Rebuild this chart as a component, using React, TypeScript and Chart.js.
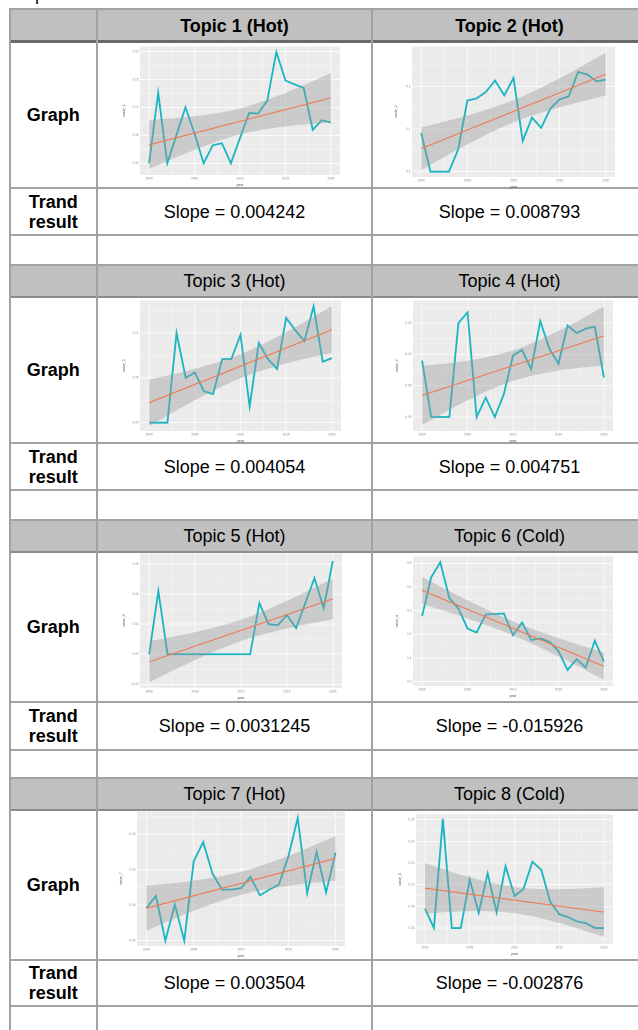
import React, { useEffect, useRef } from 'react';
import { Chart, registerables } from 'chart.js';

Chart.register(...registerables);

// ---------- data ----------
const YEARS = [2000, 2001, 2002, 2003, 2004, 2005, 2006, 2007, 2008, 2009, 2010, 2011, 2012, 2013, 2014, 2015, 2016, 2017, 2018, 2019, 2020];
const FIT_YEARS = [2000, 2020];
const BAND_YEARS = [2000, 2005, 2010, 2015, 2020];
const X_TICKS = [2000, 2002.5, 2005, 2007.5, 2010, 2012.5, 2015, 2017.5, 2020];
const X_LABELS = ['2000', '', '2005', '', '2010', '', '2015', '', '2020'];

const TOPIC_TITLES = ['Topic 1 (Hot)', 'Topic 2 (Hot)', 'Topic 3 (Hot)', 'Topic 4 (Hot)', 'Topic 5 (Hot)', 'Topic 6 (Cold)', 'Topic 7 (Hot)', 'Topic 8 (Cold)'];
const SLOPES = ['Slope = 0.004242', 'Slope = 0.008793', 'Slope = 0.004054', 'Slope = 0.004751', 'Slope = 0.0031245', 'Slope = -0.015926', 'Slope = 0.003504', 'Slope = -0.002876'];
const Y_TITLES = ['value_1', 'value_2', 'value_3', 'value_4', 'value_5', 'value_6', 'value_7', 'value_8'];

const TOPIC1_VALUES = [0.0, 0.126, 0.0, 0.05, 0.1, 0.053, 0.0, 0.032, 0.036, 0.0, 0.045, 0.09, 0.089, 0.112, 0.199, 0.148, 0.141, 0.135, 0.06, 0.077, 0.073];
const TOPIC2_VALUES = [0.091, 0.0, 0.0, 0.0, 0.052, 0.167, 0.172, 0.187, 0.214, 0.179, 0.22, 0.072, 0.127, 0.103, 0.148, 0.17, 0.177, 0.234, 0.228, 0.212, 0.216];
const TOPIC3_VALUES = [0.0, 0.0, 0.0, 0.1, 0.05, 0.056, 0.035, 0.032, 0.071, 0.071, 0.098, 0.018, 0.089, 0.071, 0.06, 0.117, 0.103, 0.091, 0.13, 0.068, 0.072];
const TOPIC4_VALUES = [0.09, 0.0, 0.0, 0.0, 0.15, 0.167, 0.0, 0.031, 0.0, 0.037, 0.098, 0.107, 0.076, 0.153, 0.109, 0.085, 0.146, 0.134, 0.141, 0.144, 0.063];
const TOPIC5_VALUES = [0.0, 0.063, 0.0, 0.0, 0.0, 0.0, 0.0, 0.0, 0.0, 0.0, 0.0, 0.0, 0.051, 0.03, 0.029, 0.039, 0.026, 0.051, 0.076, 0.046, 0.093];
const TOPIC6_VALUES = [0.277, 0.441, 0.504, 0.353, 0.309, 0.224, 0.208, 0.284, 0.286, 0.288, 0.196, 0.25, 0.176, 0.183, 0.169, 0.13, 0.049, 0.095, 0.06, 0.173, 0.085];
const TOPIC7_VALUES = [0.046, 0.063, 0.0, 0.051, 0.0, 0.112, 0.139, 0.094, 0.072, 0.072, 0.074, 0.09, 0.064, 0.072, 0.079, 0.118, 0.173, 0.067, 0.125, 0.068, 0.124];
const TOPIC8_VALUES = [0.045, 0.0, 0.252, 0.0, 0.0, 0.112, 0.035, 0.126, 0.036, 0.143, 0.074, 0.09, 0.153, 0.134, 0.06, 0.032, 0.025, 0.015, 0.011, 0.0, 0.0];

const TOPIC1_FIT = [0.033, 0.117];
const TOPIC2_FIT = [0.054, 0.229];
const TOPIC3_FIT = [0.0223, 0.1037];
const TOPIC4_FIT = [0.0345, 0.1294];
const TOPIC5_FIT = [-0.0076, 0.0552];
const TOPIC6_FIT = [0.3855, 0.0656];
const TOPIC7_FIT = [0.0458, 0.1159];
const TOPIC8_FIT = [0.092, 0.0368];

const TOPIC1_UPPER = [0.077, 0.084, 0.098, 0.126, 0.161];
const TOPIC1_LOWER = [-0.01, 0.024, 0.052, 0.066, 0.073];
const TOPIC2_UPPER = [0.104, 0.132, 0.168, 0.219, 0.279];
const TOPIC2_LOWER = [0.004, 0.064, 0.116, 0.151, 0.179];
const TOPIC3_UPPER = [0.048, 0.06, 0.0765, 0.101, 0.13];
const TOPIC3_LOWER = [-0.004, 0.025, 0.0495, 0.066, 0.078];
const TOPIC4_UPPER = [0.0815, 0.0898, 0.1063, 0.1373, 0.1764];
const TOPIC4_LOWER = [-0.0125, 0.0266, 0.0577, 0.0741, 0.0824];
const TOPIC5_UPPER = [0.0129, 0.0219, 0.0344, 0.0533, 0.0754];
const TOPIC5_LOWER = [-0.028, -0.0057, 0.0132, 0.0257, 0.035];
const TOPIC6_UPPER = [0.4425, 0.3438, 0.255, 0.1839, 0.1226];
const TOPIC6_LOWER = [0.3285, 0.2672, 0.196, 0.1073, 0.0086];
const TOPIC7_UPPER = [0.0773, 0.0845, 0.0971, 0.1196, 0.1474];
const TOPIC7_LOWER = [0.0143, 0.0421, 0.0645, 0.0772, 0.0844];
const TOPIC8_UPPER = [0.15, 0.1172, 0.0944, 0.0896, 0.0943];
const TOPIC8_LOWER = [0.034, 0.0392, 0.0344, 0.0116, -0.0207];

const TOPIC1_Y_TICKS = [0, 0.05, 0.1, 0.15, 0.2];
const TOPIC1_Y_LABELS = ['0.00', '0.05', '0.10', '0.15', '0.20'];
const TOPIC2_Y_TICKS = [0, 0.1, 0.2];
const TOPIC2_Y_LABELS = ['0.0', '0.1', '0.2'];
const TOPIC3_Y_TICKS = [0, 0.05, 0.1];
const TOPIC3_Y_LABELS = ['0.00', '0.05', '0.10'];
const TOPIC4_Y_TICKS = [0, 0.05, 0.1, 0.15];
const TOPIC4_Y_LABELS = ['0.00', '0.05', '0.10', '0.15'];
const TOPIC5_Y_TICKS = [-0.03, 0, 0.03, 0.06, 0.09];
const TOPIC5_Y_LABELS = ['-0.03', '0.00', '0.03', '0.06', '0.09'];
const TOPIC6_Y_TICKS = [0, 0.1, 0.2, 0.3, 0.4, 0.5];
const TOPIC6_Y_LABELS = ['0.0', '0.1', '0.2', '0.3', '0.4', '0.5'];
const TOPIC7_Y_TICKS = [0, 0.05, 0.1, 0.15];
const TOPIC7_Y_LABELS = ['0.00', '0.05', '0.10', '0.15'];
const TOPIC8_Y_TICKS = [0, 0.05, 0.1, 0.15, 0.2, 0.25];
const TOPIC8_Y_LABELS = ['0.00', '0.05', '0.10', '0.15', '0.20', '0.25'];

const TOPIC1_Y_RANGE = [-0.021, 0.209];
const TOPIC2_Y_RANGE = [-0.0125, 0.294];
const TOPIC3_Y_RANGE = [-0.0093, 0.1364];
const TOPIC4_Y_RANGE = [-0.0223, 0.186];
const TOPIC5_Y_RANGE = [-0.0337, 0.1006];
const TOPIC6_Y_RANGE = [-0.018, 0.529];
const TOPIC7_Y_RANGE = [-0.0075, 0.1822];
const TOPIC8_Y_RANGE = [-0.0368, 0.2623];

// ---------- assembled ----------
type Topic = {
  values: number[]; fit: number[]; upper: number[]; lower: number[];
  yTicks: number[]; yLabels: string[]; yRange: number[];
};
const TOPICS: Topic[] = [
  { values: TOPIC1_VALUES, fit: TOPIC1_FIT, upper: TOPIC1_UPPER, lower: TOPIC1_LOWER, yTicks: TOPIC1_Y_TICKS, yLabels: TOPIC1_Y_LABELS, yRange: TOPIC1_Y_RANGE },
  { values: TOPIC2_VALUES, fit: TOPIC2_FIT, upper: TOPIC2_UPPER, lower: TOPIC2_LOWER, yTicks: TOPIC2_Y_TICKS, yLabels: TOPIC2_Y_LABELS, yRange: TOPIC2_Y_RANGE },
  { values: TOPIC3_VALUES, fit: TOPIC3_FIT, upper: TOPIC3_UPPER, lower: TOPIC3_LOWER, yTicks: TOPIC3_Y_TICKS, yLabels: TOPIC3_Y_LABELS, yRange: TOPIC3_Y_RANGE },
  { values: TOPIC4_VALUES, fit: TOPIC4_FIT, upper: TOPIC4_UPPER, lower: TOPIC4_LOWER, yTicks: TOPIC4_Y_TICKS, yLabels: TOPIC4_Y_LABELS, yRange: TOPIC4_Y_RANGE },
  { values: TOPIC5_VALUES, fit: TOPIC5_FIT, upper: TOPIC5_UPPER, lower: TOPIC5_LOWER, yTicks: TOPIC5_Y_TICKS, yLabels: TOPIC5_Y_LABELS, yRange: TOPIC5_Y_RANGE },
  { values: TOPIC6_VALUES, fit: TOPIC6_FIT, upper: TOPIC6_UPPER, lower: TOPIC6_LOWER, yTicks: TOPIC6_Y_TICKS, yLabels: TOPIC6_Y_LABELS, yRange: TOPIC6_Y_RANGE },
  { values: TOPIC7_VALUES, fit: TOPIC7_FIT, upper: TOPIC7_UPPER, lower: TOPIC7_LOWER, yTicks: TOPIC7_Y_TICKS, yLabels: TOPIC7_Y_LABELS, yRange: TOPIC7_Y_RANGE },
  { values: TOPIC8_VALUES, fit: TOPIC8_FIT, upper: TOPIC8_UPPER, lower: TOPIC8_LOWER, yTicks: TOPIC8_Y_TICKS, yLabels: TOPIC8_Y_LABELS, yRange: TOPIC8_Y_RANGE },
];

// ---------- layout ----------
const FONT = '"Liberation Sans", Arial, sans-serif';
const PANELS = [
  { x1: 140, x2: 340, y1: 46, y2: 175 },
  { x1: 412, x2: 615, y1: 46, y2: 177 },
  { x1: 140, x2: 341, y1: 300, y2: 431 },
  { x1: 413, x2: 613, y1: 300, y2: 431 },
  { x1: 140, x2: 342, y1: 553, y2: 688 },
  { x1: 413, x2: 613, y1: 556, y2: 686 },
  { x1: 137, x2: 345, y1: 811, y2: 946 },
  { x1: 416, x2: 613, y1: 814, y2: 944 },
];
const BLOCKS = [
  { top: 9, head: 42, graph: 188, trend: 235, empty: 265 },
  { top: 265, head: 297, graph: 443, trend: 490, empty: 520 },
  { top: 520, head: 552, graph: 702, trend: 750, empty: 778 },
  { top: 778, head: 810, graph: 960, trend: 1006, empty: 1040 },
];
const COLS = [9.5, 97, 372, 647];
const BORDER = '#A2A2A2';
const HEAD_BG = '#C0C0C0';

const panelBg = {
  id: 'panelBg',
  beforeDraw(chart: any) {
    const { ctx, chartArea: a } = chart;
    ctx.save();
    ctx.fillStyle = '#EBEBEB';
    ctx.fillRect(a.left, a.top, a.right - a.left, a.bottom - a.top);
    ctx.restore();
  },
};

const PAD_L = 18, PAD_T = 3, PAD_R = 8, PAD_B = 12;

function TrendChart({ idx }: { idx: number }) {
  const ref = useRef<HTMLCanvasElement>(null);
  const t = TOPICS[idx];
  const p = PANELS[idx];
  const w = p.x2 - p.x1 + PAD_L + PAD_R;
  const h = p.y2 - p.y1 + PAD_T + PAD_B;
  useEffect(() => {
    const yMinor: number[] = [];
    const step = t.yTicks.length > 1 ? t.yTicks[1] - t.yTicks[0] : 0.05;
    for (let i = 0; i < t.yTicks.length; i++) {
      const a = t.yTicks[i] - step / 2;
      if (a > t.yRange[0]) yMinor.push(a);
      if (i === t.yTicks.length - 1 && t.yTicks[i] + step / 2 < t.yRange[1]) yMinor.push(t.yTicks[i] + step / 2);
    }
    const yAll = [...t.yTicks, ...yMinor].sort((a, b) => a - b);
    const isMajorY = (v: number) => t.yTicks.some((m) => Math.abs(m - v) < 1e-9);
    const isMajorX = (v: number) => Math.abs(v % 5) < 1e-9;
    const tickFont = { family: FONT, size: 3.2 };
    const chart = new Chart(ref.current as HTMLCanvasElement, {
      type: 'line',
      data: {
        datasets: [
          {
            data: YEARS.map((x, i) => ({ x, y: t.values[i] })),
            borderColor: '#17B6C2', borderWidth: 1.8, pointRadius: 0, fill: false, order: 4,
          },
          {
            data: BAND_YEARS.map((x, i) => ({ x, y: t.upper[i] })),
            borderWidth: 0, borderColor: 'rgba(0,0,0,0)', pointRadius: 0, fill: '+1',
            backgroundColor: 'rgba(153,153,153,0.4)', cubicInterpolationMode: 'monotone', order: 3,
          },
          {
            data: BAND_YEARS.map((x, i) => ({ x, y: t.lower[i] })),
            borderWidth: 0, borderColor: 'rgba(0,0,0,0)', pointRadius: 0, fill: false,
            cubicInterpolationMode: 'monotone', order: 3,
          },
          {
            data: FIT_YEARS.map((x, i) => ({ x, y: t.fit[i] })),
            borderColor: '#F07A52', borderWidth: 1.1, pointRadius: 0, fill: false, order: 1,
          },
        ],
      } as any,
      options: {
        animation: false,
        responsive: false,
        maintainAspectRatio: false,
        devicePixelRatio: 2,
        events: [],
        layout: { padding: { left: 0, top: PAD_T, right: PAD_R, bottom: 0 } },
        plugins: { legend: { display: false }, tooltip: { enabled: false }, title: { display: false } },
        scales: {
          x: {
            type: 'linear', min: 1999, max: 2021,
            afterBuildTicks: (s: any) => { s.ticks = X_TICKS.map((v) => ({ value: v })); },
            afterFit: (s: any) => { s.height = PAD_B; },
            ticks: {
              autoSkip: false, maxRotation: 0, padding: 1.5, font: tickFont, color: '#8A8A8A',
              callback: (v: any) => { const i = X_TICKS.indexOf(Number(v)); return i >= 0 ? X_LABELS[i] : ''; },
            },
            grid: {
              color: '#FFFFFF', drawTicks: false,
              lineWidth: (c: any) => (c.tick && isMajorX(c.tick.value) ? 0.7 : 0.35),
            },
            border: { display: false },
            title: { display: true, text: 'year', font: { family: FONT, size: 3.6 }, color: '#555', padding: { top: 0.5, bottom: 0 } },
          },
          y: {
            type: 'linear', min: t.yRange[0], max: t.yRange[1],
            afterBuildTicks: (s: any) => { s.ticks = yAll.map((v) => ({ value: v })); },
            afterFit: (s: any) => { s.width = PAD_L; },
            ticks: {
              autoSkip: false, padding: 1.5, font: tickFont, color: '#8A8A8A',
              callback: (v: any) => { const i = t.yTicks.findIndex((m) => Math.abs(m - Number(v)) < 1e-9); return i >= 0 ? t.yLabels[i] : ''; },
            },
            grid: {
              color: '#FFFFFF', drawTicks: false,
              lineWidth: (c: any) => (c.tick && isMajorY(c.tick.value) ? 0.7 : 0.35),
            },
            border: { display: false },
            title: { display: true, text: Y_TITLES[idx], font: { family: FONT, size: 3.6 }, color: '#555', padding: { top: 0, bottom: 0.5 } },
          },
        },
      } as any,
      plugins: [panelBg],
    });
    return () => chart.destroy();
  }, []);
  return (
    <canvas
      ref={ref}
      width={w}
      height={h}
      style={{ position: 'absolute', left: p.x1 - PAD_L, top: p.y1 - PAD_T, width: w, height: h }}
    />
  );
}

function Box({ x1, x2, y1, y2, bold, children }: any) {
  return (
    <div
      style={{
        position: 'absolute', left: x1, top: y1, width: x2 - x1, height: y2 - y1,
        display: 'flex', alignItems: 'center', justifyContent: 'center', textAlign: 'center',
        fontFamily: FONT, fontSize: 18, fontWeight: bold ? 'bold' : 'normal', lineHeight: '20px', color: '#000',
      }}
    >
      {children}
    </div>
  );
}

export default function App() {
  const lines: React.ReactNode[] = [];
  const cells: React.ReactNode[] = [];
  BLOCKS.forEach((b, bi) => {
    lines.push(<div key={`hb${bi}`} style={{ position: 'absolute', left: COLS[0], top: b.top, width: COLS[3] - COLS[0], height: b.head - b.top, background: HEAD_BG }} />);
    [b.top, b.graph, b.trend].forEach((y, k) => {
      lines.push(<div key={`h${bi}_${k}`} style={{ position: 'absolute', left: COLS[0], top: y - 1, width: COLS[3] - COLS[0], height: 2, background: BORDER }} />);
    });
    lines.push(
      <div key={`hh${bi}`} style={{ position: 'absolute', left: COLS[0], top: bi === 0 ? b.head - 2 : b.head - 1, width: COLS[3] - COLS[0], height: bi === 0 ? 3 : 2, background: bi === 0 ? '#6A6A6A' : '#8C8C8C' }} />
    );
    const bold = bi === 0;
    cells.push(<Box key={`t${bi}a`} x1={COLS[1]} x2={COLS[2]} y1={b.top} y2={b.head} bold={bold}>{TOPIC_TITLES[bi * 2]}</Box>);
    cells.push(<Box key={`t${bi}b`} x1={COLS[2]} x2={COLS[3]} y1={b.top} y2={b.head} bold={bold}>{TOPIC_TITLES[bi * 2 + 1]}</Box>);
    cells.push(<Box key={`g${bi}`} x1={COLS[0]} x2={COLS[1]} y1={b.head} y2={b.graph} bold>Graph</Box>);
    cells.push(<Box key={`r${bi}`} x1={COLS[0]} x2={COLS[1]} y1={b.graph} y2={b.trend} bold><span>Trand<br />result</span></Box>);
    cells.push(<Box key={`s${bi}a`} x1={COLS[1]} x2={COLS[2]} y1={b.graph} y2={b.trend}>{SLOPES[bi * 2]}</Box>);
    cells.push(<Box key={`s${bi}b`} x1={COLS[2]} x2={COLS[3]} y1={b.graph} y2={b.trend}>{SLOPES[bi * 2 + 1]}</Box>);
  });
  COLS.forEach((x, i) => {
    lines.push(<div key={`v${i}`} style={{ position: 'absolute', left: x - 1, top: 8, width: 2, height: 1040, background: BORDER }} />);
  });
  return (
    <div style={{ position: 'fixed', left: 0, top: 0, width: 638, height: 1030, overflow: 'hidden', background: '#fff' }}>
      <div style={{ position: 'absolute', left: 35, top: -16, fontFamily: FONT, fontSize: 18, lineHeight: '20px' }}>p</div>
      {lines}
      {cells}
      {TOPICS.map((_, i) => <TrendChart key={i} idx={i} />)}
    </div>
  );
}
